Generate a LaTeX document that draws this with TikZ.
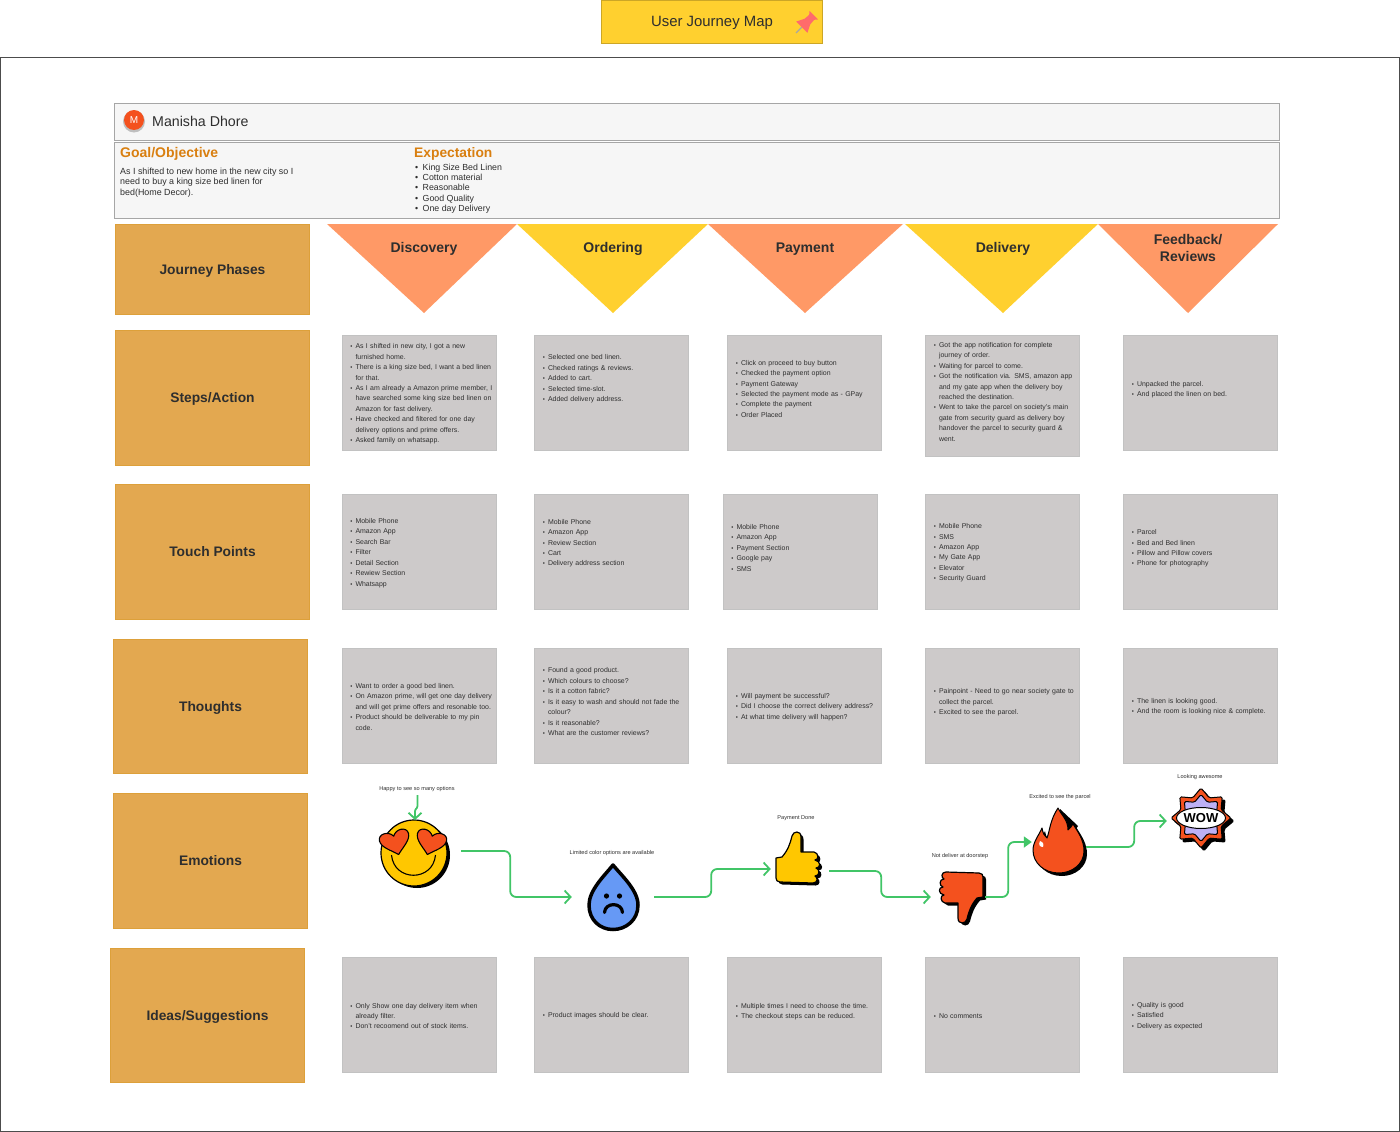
\documentclass[tikz,border=0pt]{standalone}
\usepackage{fontspec}
\setmainfont{Liberation Sans}
\usetikzlibrary{shapes,arrows.meta,positioning,calc}

\definecolor{titleyellow}{HTML}{FFD02F}
\definecolor{phaseorange}{HTML}{FF9966}
\definecolor{rowbox}{HTML}{E3A850}
\definecolor{rowedge}{HTML}{DDA03A}
\definecolor{cardgrey}{HTML}{CDCACA}
\definecolor{cardedge}{HTML}{C2C2C2}
\definecolor{barfill}{HTML}{F6F6F6}
\definecolor{headorange}{HTML}{D97F10}
\definecolor{inkdark}{HTML}{2E2E2E}
\definecolor{flowgreen}{HTML}{41C567}
\definecolor{iconyellow}{HTML}{FFC700}
\definecolor{iconred}{HTML}{F4511E}
\definecolor{iconblue}{HTML}{6699F5}
\definecolor{iconlilac}{HTML}{BDB0F5}
\definecolor{pinred}{HTML}{FF6B6B}

\tikzset{
    rowlabel/.style={draw=rowedge,fill=rowbox,minimum width=194,minimum height=#1,inner sep=0,
        text height=10pt,text depth=0pt,font=\fontsize{13.8}{16}\selectfont\bfseries,text=inkdark},
    card/.style={draw=cardedge,fill=cardgrey,minimum width=154,minimum height=#1,text width=154pt,
        inner sep=0,align=left,text=inkdark,font=\fontsize{6.95}{10.45}\selectfont},
    card/.default=114.5,
    phase/.style={font=\fontsize{14}{17}\selectfont\bfseries,text=inkdark,align=center},
    bar/.style={draw=black!35,fill=barfill},
    flow/.style={draw=flowgreen,line width=1.8pt,rounded corners=6pt,-{Straight Barb[length=6pt,width=13pt]}},
    flowsolid/.style={draw=flowgreen,line width=1.8pt,rounded corners=6pt,-{Triangle[length=8pt,width=11pt]}},
    mood/.style={font=\fontsize{5.6}{6}\selectfont,text=inkdark},
    slot/.style={minimum width=#1,inner sep=0},
    burst/.style={star,star points=8,star point ratio=1.38,inner sep=0,rounded corners=1.5pt},
}

% bulleted text of one card
\newcommand{\cardlist}[1]{%
    \begin{list}{\fontsize{6}{4}\selectfont\textbullet}{\setlength{\topsep}{0pt}\setlength{\partopsep}{0pt}
        \setlength{\itemsep}{0pt}\setlength{\parsep}{0pt}\setlength{\leftmargin}{13.5pt}\setlength{\labelwidth}{8pt}
        \setlength{\labelsep}{3pt}\setlength{\rightmargin}{0pt}}#1\end{list}\vspace{2.5pt}}
\newcommand{\blankline}{\item[]\mbox{}}

\def\heartpath{(0,14) .. controls (-6,8) and (-15,3) .. (-15,-4) .. controls (-15,-11) and (-4,-12) .. (0,-5)
    .. controls (4,-12) and (15,-11) .. (15,-4) .. controls (15,3) and (6,8) .. (0,14) -- cycle}
\def\thumbpath{(-22,0) -- (-16,-1) .. controls (-10,-8) and (-8,-14) .. (-6,-22) .. controls (-5,-27) and (3,-28) .. (3,-21)
    -- (3,-6) -- (16,-6) .. controls (21,-5) and (21,2) .. (17,2) .. controls (23,3) and (23,10) .. (18,10)
    .. controls (22,11) and (22,18) .. (17,18) .. controls (20,19) and (20,25) .. (15,25) -- (-18,24)
    .. controls (-21,24) and (-22,22) .. (-22,20) -- cycle}
\def\firepath{(1058,808) .. controls (1062,816) and (1068,820) .. (1068,830) .. controls (1070,828) and (1072,826) .. (1073,824)
    .. controls (1078,832) and (1084,840) .. (1084,851) .. controls (1084,864) and (1072,873) .. (1059,873)
    .. controls (1044,873) and (1033,863) .. (1033,850) .. controls (1033,842) and (1039,835) .. (1042,828)
    .. controls (1043,833) and (1044,836) .. (1047,838) .. controls (1050,830) and (1050,820) .. (1058,808) -- cycle}

\begin{document}
\begin{tikzpicture}[x=1pt,y=-1pt]
    \useasboundingbox (0,0) rectangle (1400,1132);

    % Title and outer frame
    \draw[black!70] (0.5,57) rectangle (1399.5,1131.5);
    \node[draw=titleyellow!80!black,fill=titleyellow,minimum width=221,minimum height=43,inner sep=0,
        text height=10.5pt,text depth=0pt,font=\fontsize{14.9}{17}\selectfont,text=inkdark] (title) at (712,21.5) {User Journey Map};
    \begin{scope}[shift={(806,23)},rotate=-45]
        \draw[black!35,line width=1.2pt] (0,6) -- (0,14);
        \fill[pinred] (-8,6) -- (8,6) -- (4,-2) -- (3.5,-8) -- (6,-11) -- (-6,-11) -- (-3.5,-8) -- (-4,-2) -- cycle;
    \end{scope}

    % Persona
    \node[bar,minimum width=1165,minimum height=36.5,inner sep=0] (persona) at (697,121.5) {};
    \fill[black!25] (134,121.5) circle (11pt);
    \node[circle,fill=iconred,minimum size=20,inner sep=0,text=white,font=\fontsize{10}{12}\selectfont] (avatar) at (134,120) {M};
    \node[anchor=west,inner sep=0,font=\fontsize{14.2}{17}\selectfont,text=inkdark] (name) at (152,121.5) {Manisha Dhore};
    \node[bar,minimum width=1165,minimum height=75.5,inner sep=0] (brief) at (697,180) {};
    \node[anchor=west,inner sep=0,font=\fontsize{14}{16}\selectfont\bfseries,text=headorange] (goal) at (120,153.5) {Goal/Objective};
    \node[anchor=north west,inner sep=0,align=left,font=\fontsize{8.9}{10.45}\selectfont,text=inkdark] (goaltext) at (120,167.5)
        {As I shifted to new home in the new city so I\\need to buy a king size bed linen for\\bed(Home Decor).};
    \node[anchor=west,inner sep=0,font=\fontsize{13.8}{16}\selectfont\bfseries,text=headorange] (expect) at (414,153.5) {Expectation};
    \node[anchor=north west,inner sep=0,align=left,font=\fontsize{8.8}{10.45}\selectfont,text=inkdark] (expecttext) at (415,163.5)
        {\textbullet\hspace{2pt} King Size Bed Linen\\\textbullet\hspace{2pt} Cotton material\\\textbullet\hspace{2pt} Reasonable\\\textbullet\hspace{2pt} Good Quality\\\textbullet\hspace{2pt} One day Delivery};

    % Row labels
    \node[rowlabel=89.5] (phases) at (212.5,269) {Journey Phases};
    \node[rowlabel=134.5] (steps) at (212.5,397.5) {Steps/Action};
    \node[rowlabel=134.5] (touch) at (212.5,551.5) {Touch Points};
    \node[rowlabel=133.5] (thoughts) at (210.5,706) {Thoughts};
    \node[rowlabel=134.5] (emotions) at (210.5,860.5) {Emotions};
    \node[rowlabel=133.5] (ideas) at (207.5,1015) {Ideas/Suggestions};

    % Journey phases
    \fill[phaseorange] (327,224) -- (517,224) -- (424,313) -- cycle;
    \fill[titleyellow] (517,224) -- (708,224) -- (613,313) -- cycle;
    \fill[phaseorange] (708,224) -- (903,224) -- (805,313) -- cycle;
    \fill[titleyellow] (905,224) -- (1098,224) -- (1003,313) -- cycle;
    \fill[phaseorange] (1098,224) -- (1278,224) -- (1188,313) -- cycle;
    \node[phase] (discovery) at (424,249) {Discovery};
    \node[phase] (ordering) at (613,249) {Ordering};
    \node[phase] (payment) at (805,249) {Payment};
    \node[phase] (delivery) at (1003,249) {Delivery};
    \node[phase] (feedback) at (1188,248) {Feedback/\\Reviews};

    % Steps
    \node[card] (stepa) at (419,392.5) {\cardlist{\item As I shifted in new city, I got a new\\furnished home.
        \item There is a king size bed, I want a bed linen\\for that.
        \item As I am already a Amazon prime member, I\\have searched some king size bed linen on\\Amazon for fast delivery.
        \item Have checked and filtered for one day\\delivery options and prime offers.
        \item Asked family on whatsapp.}};
    \node[card] (stepb) at (611.5,392.5) {\cardlist{\item Selected one bed linen.
        \item Checked ratings \& reviews.
        \item Added to cart.
        \item Selected time-slot.
        \item Added delivery address.\blankline\blankline\blankline}};
    \node[card] (stepc) at (804.5,392.5) {\cardlist{\item Click on proceed to buy button
        \item Checked the payment option
        \item Payment Gateway
        \item Selected the payment mode as - GPay
        \item Complete the payment
        \item Order Placed\blankline}};
    \node[card=120.5] (stepd) at (1002.5,395.5) {\cardlist{\item Got the app notification for complete\\journey of order.
        \item Waiting for parcel to come.
        \item Got the notification via. SMS, amazon app\\and my gate app when the delivery boy\\reached the destination.
        \item Went to take the parcel on society's main\\gate from security guard as delivery boy\\handover the parcel to security guard \&\\went.\blankline}};
    \node[card] (stepe) at (1200.5,392.5) {\cardlist{\item Unpacked the parcel.
        \item And placed the linen on bed.\blankline}};

    % Touch points
    \node[card] (toucha) at (419,551.5) {\cardlist{\item Mobile Phone
        \item Amazon App
        \item Search Bar
        \item Filter
        \item Detail Section
        \item Rewiew Section
        \item Whatsapp}};
    \node[card] (touchb) at (611.5,551.5) {\cardlist{\item Mobile Phone
        \item Amazon App
        \item Review Section
        \item Cart
        \item Delivery address section\blankline\blankline}};
    \node[card] (touchc) at (800,551.5) {\cardlist{\item Mobile Phone
        \item Amazon App
        \item Payment Section
        \item Google pay
        \item SMS\blankline}};
    \node[card] (touchd) at (1002.5,551.5) {\cardlist{\item Mobile Phone
        \item SMS
        \item Amazon App
        \item My Gate App
        \item Elevator
        \item Security Guard}};
    \node[card] (touche) at (1200.5,551.5) {\cardlist{\item Parcel
        \item Bed and Bed linen
        \item Pillow and Pillow covers
        \item Phone for photography\blankline}};

    % Thoughts
    \node[card] (thinka) at (419,705.5) {\cardlist{\item Want to order a  good bed linen.
        \item On Amazon prime, will get one day delivery\\and will get prime offers and resonable too.
        \item Product should be deliverable to my pin\\code.}};
    \node[card] (thinkb) at (611.5,705.5) {\cardlist{\item Found a good product.
        \item Which colours to choose?
        \item Is it  a cotton fabric?
        \item Is it easy to wash and should not fade the\\colour?
        \item Is it reasonable?
        \item What are the customer reviews?\blankline}};
    \node[card] (thinkc) at (804.5,705.5) {\cardlist{\item Will payment be successful?
        \item Did I choose the correct delivery address?
        \item At what time delivery will happen?}};
    \node[card] (thinkd) at (1002.5,705.5) {\cardlist{\item Painpoint - Need to go near society gate to\\collect the parcel.
        \item Excited to see the parcel.\blankline}};
    \node[card] (thinke) at (1200.5,705.5) {\cardlist{\item The linen is  looking good.
        \item And the room is looking nice \& complete.}};

    % Ideas
    \node[card] (ideaa) at (419,1014.5) {\cardlist{\item Only Show one day delivery item when\\already filter.
        \item Don't recoomend out of stock items.}};
    \node[card] (ideab) at (611.5,1014.5) {\cardlist{\item Product images should be clear.}};
    \node[card] (ideac) at (804.5,1014.5) {\cardlist{\item Multiple times I need to choose the time.
        \item The checkout steps can be reduced.\blankline}};
    \node[card] (idead) at (1002.5,1014.5) {\cardlist{\item No comments}};
    \node[card] (ideae) at (1200.5,1014.5) {\cardlist{\item Quality is good
        \item Satisfied
        \item Delivery as expected}};

    % Emotion icons
    \fill (417,855) circle (33pt);
    \draw[line width=1.2pt,fill=iconyellow] (414,853) circle (33pt);
    \draw[line width=1.1pt] (391.5,855) .. controls (394,882) and (433,882) .. (435.5,855);
    \begin{scope}[shift={(395,841)},rotate=15]
        \draw[line width=1.1pt,fill=iconred,line join=round] \heartpath;
    \end{scope}
    \begin{scope}[shift={(431,841)},rotate=-15]
        \draw[line width=1.1pt,fill=iconred,line join=round] \heartpath;
    \end{scope}

    \draw[line width=3.5pt,fill=iconblue,line join=round] (613,865) .. controls (605,875) and (589,890) .. (589,905)
        .. controls (589,920) and (600,929.5) .. (613,929.5) .. controls (626,929.5) and (638,920) .. (638,905)
        .. controls (638,890) and (621,875) .. (613,865) -- cycle;
    \fill (606.5,896) circle (2.6pt) (619.5,896) circle (2.6pt);
    \draw[line width=3.2pt,line cap=round] (604.5,912.5) .. controls (605,902) and (622,902) .. (622.5,912.5);

    \begin{scope}[shift={(798,858)}]
        \fill[shift={(2.5,2.5)}] \thumbpath;
        \draw[line width=1.2pt,fill=iconyellow,line join=round] \thumbpath;
    \end{scope}
    \begin{scope}[shift={(961,897)}]
        \fill[shift={(3,2.5)},rotate=180] \thumbpath;
        \draw[line width=1.2pt,fill=iconred,line join=round,rotate=180] \thumbpath;
    \end{scope}

    \fill (1060,809) -- (1078,826) -- (1070,838) -- (1062,828) -- cycle;
    \fill[shift={(3,3)}] \firepath;
    \draw[line width=1pt,fill=iconred,line join=round] \firepath;
    \fill[white] (1040,841) .. controls (1043,842) and (1044,844) .. (1043,847) .. controls (1040,847) and (1038,845) .. (1040,841) -- cycle;

    \node[burst,minimum size=61,fill=black] (wowdrop) at (1204,821) {};
    \node[burst,minimum size=60,draw=black,line width=1pt,fill=iconred] (wowouter) at (1201,818) {};
    \node[burst,minimum size=47,draw=black,line width=1pt,fill=iconlilac] (wowinner) at (1201,818) {};
    \node[ellipse,minimum width=46,minimum height=21,inner sep=0,draw=black,line width=1pt,fill=white,
        font=\fontsize{13}{14}\selectfont\bfseries] (wowtext) at (1201,818) {WOW};

    % Emotion anchors and labels
    \node[slot=92] (smiley) at (415,851) {};
    \node[slot=82] (sad) at (613,897) {};
    \node[slot=58] (thumbup) at (800,870) {};
    \node[slot=54] (thumbdown) at (958,897) {};
    \node[slot=54] (fire) at (1059,842) {};
    \node[slot=70] (wow) at (1202,821) {};
    \coordinate (smileytop) at (415,820);
    \node[mood] (happy) at (417,789) {Happy to see so many options};
    \node[mood] (limited) at (612,853) {Limited color options are available};
    \node[mood] (done) at (796,818) {Payment Done};
    \node[mood] (notdeliver) at (960,856) {Not deliver at doorstep};
    \node[mood] (excited) at (1060,797) {Excited to see the parcel};
    \node[mood] (awesome) at (1200,777) {Looking awesome};

    % Emotion curve
    \draw[flow,rounded corners=1pt] ([xshift=.5pt]happy.south) -- ++(0,12) -- ++(-2.5,3) -- (smileytop);
    \draw[flow] (smiley.east) -- ++(49,0) |- (sad.west);
    \draw[flow] (sad.east) -- ++(57,0) |- ([yshift=1pt]thumbup.west);
    \draw[flow] ([yshift=-1pt]thumbup.east) -- ++(52,0) |- (thumbdown.west);
    \draw[flowsolid] (thumbdown.east) -- ++(23,0) |- (fire.west);
    \draw[flow] ([yshift=-5pt]fire.east) -- ++(48,0) |- (wow.west);
\end{tikzpicture}
\end{document}
